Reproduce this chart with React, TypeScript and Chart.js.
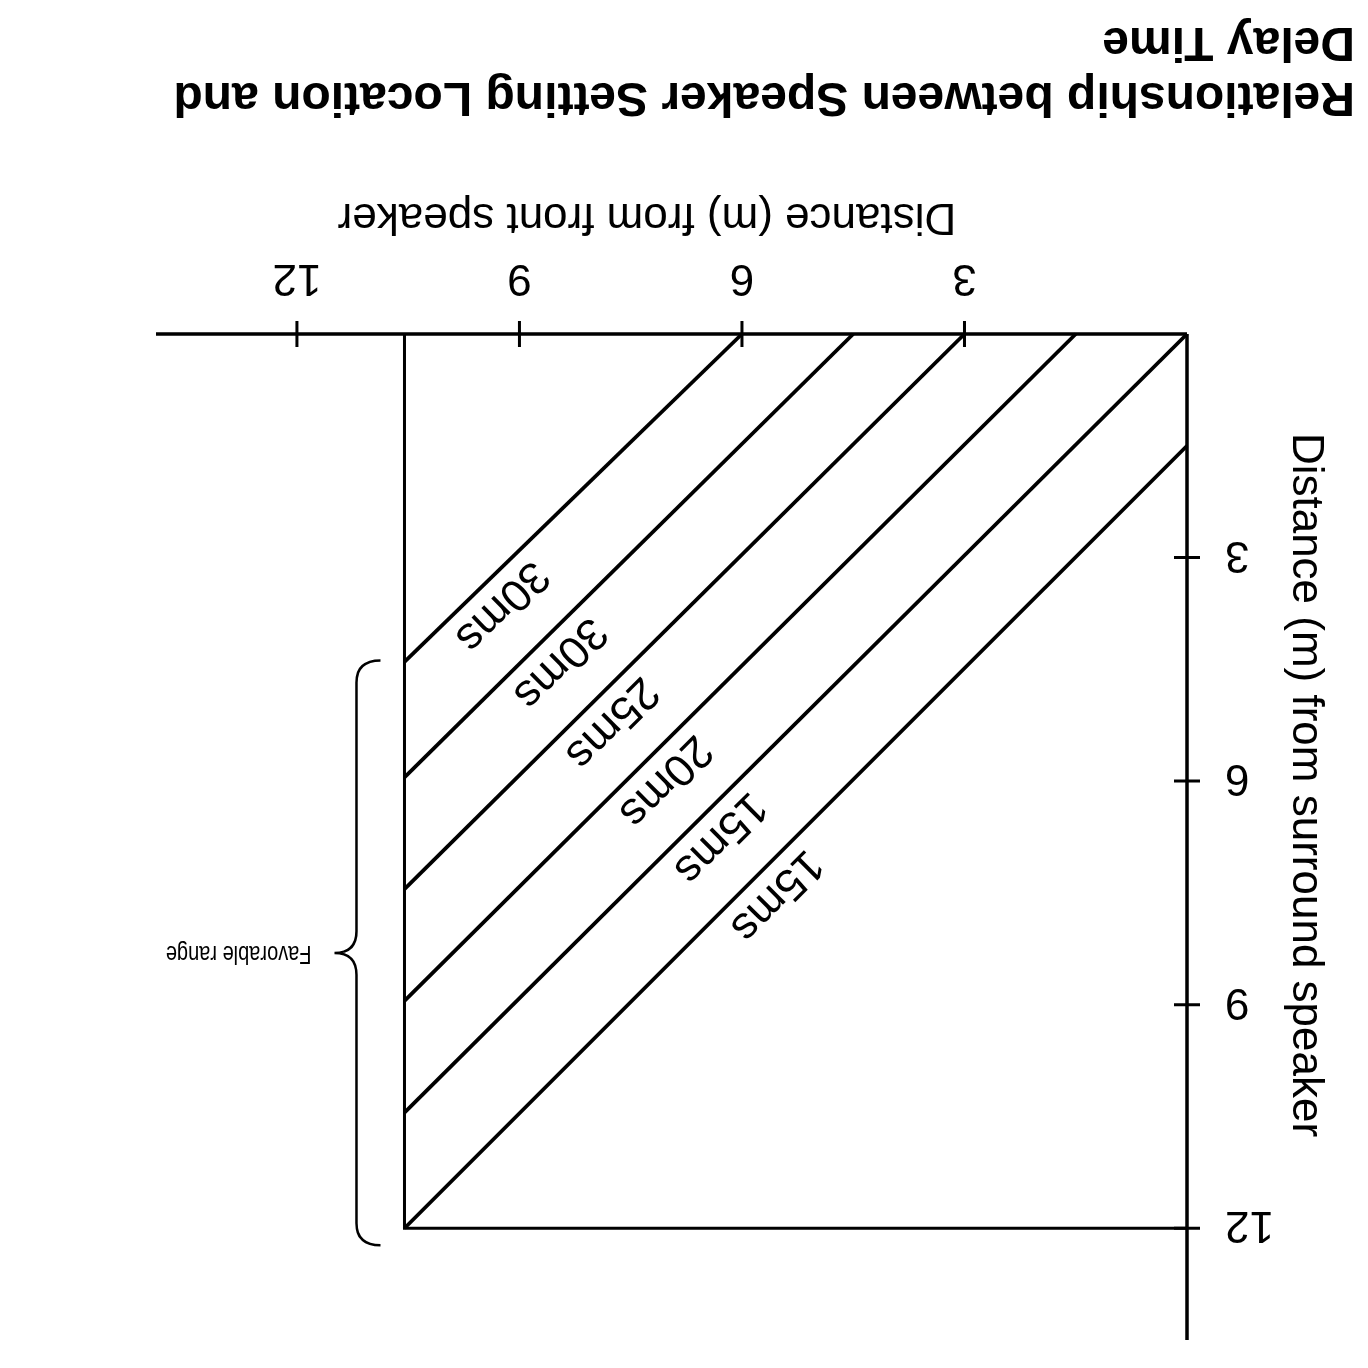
import React, { useEffect, useRef } from "react";
import { Chart, registerables } from "chart.js";
Chart.register(...registerables);

const TITLE_LINES = ["Relationship between Speaker Setting Location and", "Delay Time"];
const X_TITLE = "Distance (m) from front speaker";
const Y_TITLE = "Distance (m) from surround speaker";
const RANGE_LABEL = "Favorable range";

const xTicks = [3, 6, 9, 12];
const yTicks = [3, 6, 9, 12];
const xMax = 13.9;
const yMax = 13.5;

const delayLabels = ["30ms", "30ms", "25ms", "20ms", "15ms", "15ms"];
const startX = [6, 4.5, 3, 1.5, 0, 0];
const startY = [0, 0, 0, 0, 0, 1.5];
const endX = [10.55, 10.55, 10.55, 10.55, 10.55, 10.55];
const endY = [4.4, 5.95, 7.45, 8.95, 10.45, 12];
const labelX = [9.5, 8.72, 8.02, 7.3, 6.56, 5.8];

const boxX = [0, 10.55, 10.55];
const boxY = [12, 12, 0];

const favorableRange = [4.38, 12.23];

const FONT = '"Liberation Sans", Arial, sans-serif';

const drawPlugin = {
  id: "diagram",
  afterDatasetsDraw(chart: any) {
    const ctx = chart.ctx;
    const xs = chart.scales.x;
    const ys = chart.scales.y;
    const X = (v: number) => xs.getPixelForValue(v);
    const Y = (v: number) => ys.getPixelForValue(v);
    const ox = X(0);
    const oy = Y(0);
    ctx.save();
    ctx.strokeStyle = "#000";
    ctx.fillStyle = "#000";
    ctx.lineCap = "butt";

    // axes
    ctx.lineWidth = 3.5;
    ctx.beginPath();
    ctx.moveTo(ox, oy);
    ctx.lineTo(X(xMax), oy);
    ctx.moveTo(ox, oy);
    ctx.lineTo(ox, Y(yMax));
    ctx.stroke();

    // tick marks crossing axes
    ctx.lineWidth = 3;
    ctx.beginPath();
    xTicks.forEach((t) => {
      ctx.moveTo(X(t), oy - 13);
      ctx.lineTo(X(t), oy + 13);
    });
    yTicks.forEach((t) => {
      ctx.moveTo(ox - 13, Y(t));
      ctx.lineTo(ox + 13, Y(t));
    });
    ctx.stroke();

    // tick labels
    ctx.font = `44px ${FONT}`;
    ctx.textAlign = "center";
    ctx.textBaseline = "alphabetic";
    xTicks.forEach((t) => ctx.fillText(String(t), X(t), oy + 69));
    ctx.textAlign = "right";
    yTicks.forEach((t) => ctx.fillText(String(t), ox - 38, Y(t) + 16));

    // axis titles
    ctx.textAlign = "center";
    ctx.fillText(X_TITLE, 721, oy + 130);
    ctx.save();
    ctx.translate(75, 583);
    ctx.rotate(-Math.PI / 2);
    ctx.fillText(Y_TITLE, 0, 0);
    ctx.restore();

    // delay labels along lines
    ctx.font = `45px ${FONT}`;
    ctx.textAlign = "center";
    ctx.textBaseline = "alphabetic";
    delayLabels.forEach((lab, i) => {
      const x0 = X(startX[i]), y0 = Y(startY[i]);
      const x1 = X(endX[i]), y1 = Y(endY[i]);
      const ang = Math.atan2(y1 - y0, x1 - x0);
      const px = X(labelX[i]);
      const f = (px - x0) / (x1 - x0);
      const py = y0 + f * (y1 - y0);
      ctx.save();
      ctx.translate(px, py);
      ctx.rotate(ang);
      ctx.fillText(lab, 0, -15);
      ctx.restore();
    });

    // brace
    const xb = X(boxX[1]);
    const yTop = Y(favorableRange[1]);
    const yBot = Y(favorableRange[0]);
    const yMid = (yTop + yBot) / 2;
    ctx.lineWidth = 2.5;
    ctx.beginPath();
    ctx.moveTo(xb + 24, yTop);
    ctx.quadraticCurveTo(xb + 48, yTop, xb + 48, yTop + 22);
    ctx.lineTo(xb + 48, yMid - 22);
    ctx.quadraticCurveTo(xb + 48, yMid, xb + 70, yMid);
    ctx.quadraticCurveTo(xb + 48, yMid, xb + 48, yMid + 22);
    ctx.lineTo(xb + 48, yBot - 22);
    ctx.quadraticCurveTo(xb + 48, yBot, xb + 24, yBot);
    ctx.stroke();
    ctx.save();
    ctx.translate(xb + 93, yMid);
    ctx.scale(0.8, 1);
    ctx.font = `25px ${FONT}`;
    ctx.textAlign = "left";
    ctx.textBaseline = "middle";
    ctx.fillText(RANGE_LABEL, 0, 0);
    ctx.restore();

    // title
    ctx.font = `bold 48px ${FONT}`;
    ctx.textAlign = "left";
    ctx.textBaseline = "alphabetic";
    ctx.fillText(TITLE_LINES[0], 13, 1285);
    ctx.fillText(TITLE_LINES[1], 13, 1340);
    ctx.restore();
  },
};

export default function App() {
  const ref = useRef<HTMLCanvasElement>(null);
  useEffect(() => {
    if (!ref.current) return;
    const datasets: any[] = delayLabels.map((lab, i) => ({
      label: lab,
      data: [
        { x: startX[i], y: startY[i] },
        { x: endX[i], y: endY[i] },
      ],
      showLine: true,
      borderColor: "#000",
      borderWidth: 3.8,
      pointRadius: 0,
      clip: false,
    }));
    datasets.push({
      label: "box",
      data: boxX.map((x, i) => ({ x, y: boxY[i] })),
      showLine: true,
      borderColor: "#000",
      borderWidth: 3,
      pointRadius: 0,
      clip: false,
    });
    const chart = new Chart(ref.current, {
      type: "scatter",
      data: { datasets },
      options: {
        responsive: false,
        maintainAspectRatio: false,
        animation: false,
        devicePixelRatio: 1,
        layout: { padding: { left: 181, right: 156, top: 28, bottom: 334 } },
        scales: {
          x: { type: "linear", min: 0, max: xMax, display: false },
          y: { type: "linear", min: 0, max: yMax, display: false },
        },
        plugins: { legend: { display: false }, tooltip: { enabled: false }, title: { display: false } },
      },
      plugins: [drawPlugin],
    });
    return () => chart.destroy();
  }, []);
  return (
    <div
      style={{
        position: "absolute",
        left: 0,
        top: 0,
        width: 1368,
        height: 1368,
        background: "#fff",
        transform: "rotate(180deg)",
      }}
    >
      <canvas ref={ref} width={1368} height={1368} style={{ display: "block", width: 1368, height: 1368 }} />
    </div>
  );
}
